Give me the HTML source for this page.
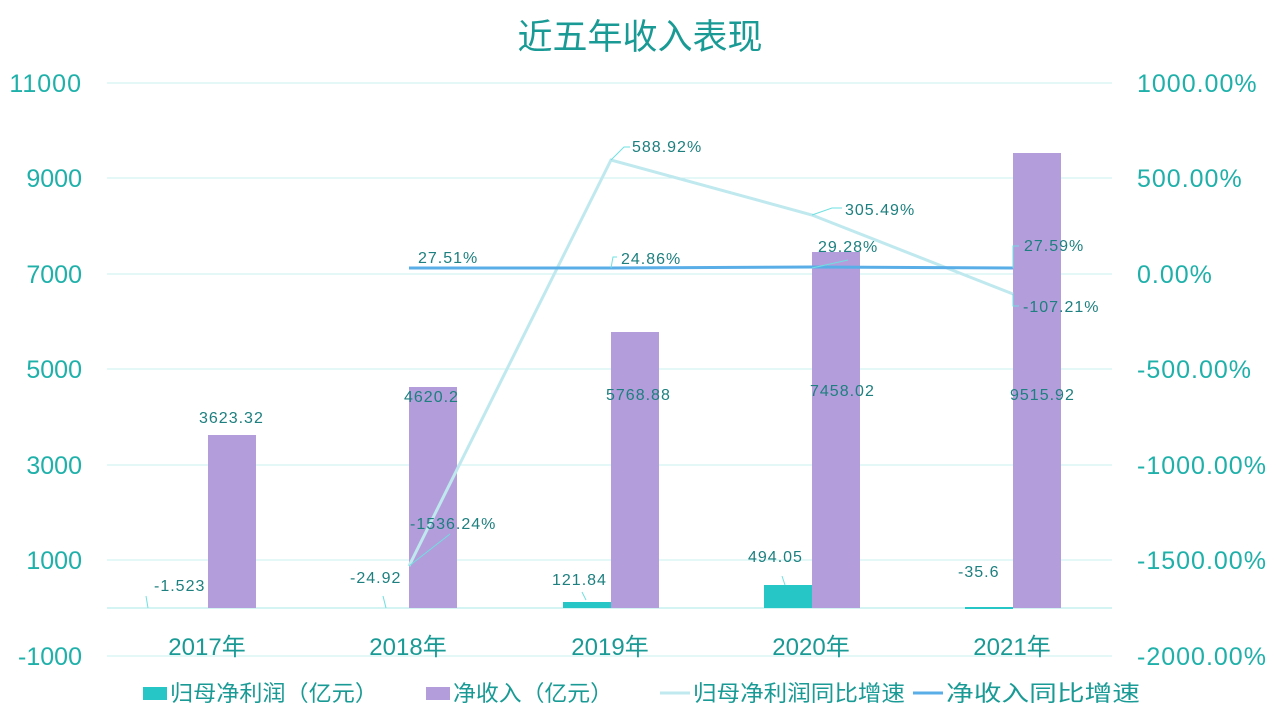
<!DOCTYPE html>
<html><head><meta charset="utf-8"><style>
html,body{margin:0;padding:0;background:#fff;}
svg{display:block;font-family:"Liberation Sans","Noto Sans CJK SC",sans-serif;}
.ax{fill:#1fb0aa;font-size:25px;}
.dl{fill:#1d7f7f;font-size:16px;letter-spacing:1px;}
.cat{fill:#1a9a95;font-size:24px;}
.lg{fill:#1a9a95;font-size:22px;}
.g{stroke:#c8f0f0;stroke-width:1;}
.ld{stroke:#6fe0e0;stroke-width:1;fill:none;}
</style></head><body>
<svg width="1280" height="720" viewBox="0 0 1280 720">
<text x="640" y="49" text-anchor="middle" font-size="35" fill="#1a9a95">近五年收入表现</text>
<g class="g">
<line x1="107" y1="83" x2="1112" y2="83"/>
<line x1="107" y1="178" x2="1112" y2="178"/>
<line x1="107" y1="274" x2="1112" y2="274"/>
<line x1="107" y1="369" x2="1112" y2="369"/>
<line x1="107" y1="465" x2="1112" y2="465"/>
<line x1="107" y1="560" x2="1112" y2="560"/>
<line x1="107" y1="656" x2="1112" y2="656"/>
<line x1="107" y1="608" x2="1112" y2="608" stroke="#a8e8e8"/>
</g>
<g class="ax" text-anchor="end">
<text x="82" y="92" letter-spacing="1">11000</text>
<text x="82" y="187">9000</text>
<text x="82" y="283">7000</text>
<text x="82" y="378">5000</text>
<text x="82" y="474">3000</text>
<text x="82" y="569">1000</text>
<text x="82" y="665">-1000</text>
</g>
<g class="ax" text-anchor="start" letter-spacing="1">
<text x="1137" y="92">1000.00%</text>
<text x="1137" y="187">500.00%</text>
<text x="1137" y="283">0.00%</text>
<text x="1137" y="378">-500.00%</text>
<text x="1137" y="474">-1000.00%</text>
<text x="1137" y="569">-1500.00%</text>
<text x="1137" y="665">-2000.00%</text>
</g>
<g fill="#b39ddb">
<rect x="208" y="435" width="48" height="173"/>
<rect x="409" y="387" width="48" height="221"/>
<rect x="611" y="332" width="48" height="276"/>
<rect x="812" y="252" width="48" height="356"/>
<rect x="1013" y="153" width="48" height="455"/>
</g>
<g fill="#26c6c6">
<rect x="563" y="602" width="48" height="6"/>
<rect x="764" y="585" width="48" height="23"/>
<rect x="965" y="607" width="48" height="2"/>
</g>
<polyline points="409,566 611,160 812,215 1013,294" fill="none" stroke="#bfe9ee" stroke-width="3"/>
<polyline points="409,268 611,268 812,267 1013,268" fill="none" stroke="#5aaee8" stroke-width="3"/>
<g class="ld">
<line x1="148" y1="608" x2="146" y2="596"/>
<line x1="386" y1="608" x2="383" y2="596"/>
<line x1="586" y1="600" x2="582" y2="592"/>
<line x1="785" y1="585" x2="782" y2="576"/>
<polyline points="409,566 450,534"/>
<polyline points="611,160 624,147 630,147"/>
<polyline points="812,215 832,208 842,208"/>
<polyline points="812,268 848,260"/>
<polyline points="611,268 613,257 617,257"/>
<polyline points="1013,268 1013,246 1019,246"/>
<polyline points="1013,294 1013,306 1019,306"/>
</g>
<g class="dl">
<text x="154" y="591">-1.523</text>
<text x="350" y="583">-24.92</text>
<text x="552" y="585">121.84</text>
<text x="748" y="562">494.05</text>
<text x="958" y="577">-35.6</text>
<text x="199" y="423">3623.32</text>
<text x="404" y="402">4620.2</text>
<text x="606" y="400">5768.88</text>
<text x="810" y="396">7458.02</text>
<text x="1010" y="400">9515.92</text>
<text x="418" y="263">27.51%</text>
<text x="621" y="264">24.86%</text>
<text x="818" y="252">29.28%</text>
<text x="1024" y="251">27.59%</text>
<text x="1023" y="312">-107.21%</text>
<text x="632" y="152">588.92%</text>
<text x="845" y="215">305.49%</text>
<text x="410" y="529">-1536.24%</text>
</g>
<g class="cat" text-anchor="middle">
<text x="207" y="655">2017年</text>
<text x="408" y="655">2018年</text>
<text x="610" y="655">2019年</text>
<text x="811" y="655">2020年</text>
<text x="1012" y="655">2021年</text>
</g>
<rect x="143" y="687" width="24" height="13" fill="#26c6c6"/>
<text class="lg" x="170" y="701" textLength="208" lengthAdjust="spacingAndGlyphs">归母净利润（亿元）</text>
<rect x="426" y="687" width="24" height="13" fill="#b39ddb"/>
<text class="lg" x="453" y="701" textLength="160" lengthAdjust="spacingAndGlyphs">净收入（亿元）</text>
<line x1="660" y1="693" x2="690" y2="693" stroke="#bfe9ee" stroke-width="3"/>
<text class="lg" x="693" y="701" textLength="212" lengthAdjust="spacingAndGlyphs">归母净利润同比增速</text>
<line x1="913" y1="693" x2="943" y2="693" stroke="#5aaee8" stroke-width="3"/>
<text class="lg" x="946" y="701" textLength="194" lengthAdjust="spacingAndGlyphs">净收入同比增速</text>
</svg>
</body></html>
